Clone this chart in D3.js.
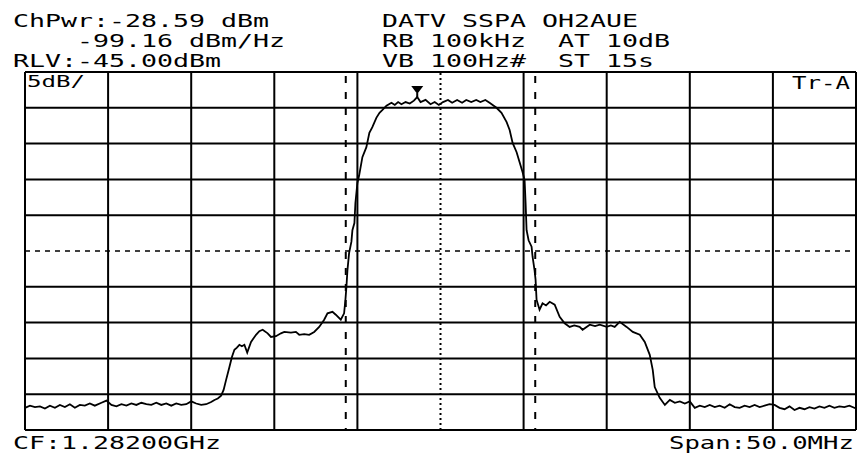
<!DOCTYPE html>
<html>
<head lang="en">
  <meta charset="UTF-8">
<title>DATV SSPA spectrum</title>
<style>
body { margin: 0; background: #fff; }
.lbl {
    font-family: "DejaVu Sans Mono", monospace;
    font-size: 18px;
    white-space: pre;
    fill: #000;
}
</style>
<script src="https://d3js.org/d3.v7.min.js"></script>
</head>
<body>
<div id="vis"></div>

<script>

// analyzer settings / tick values
var spanMHz = [-25, 25];          // offset from CF 1.282 GHz
var levelDbm = [-95, -45];        // RLV -45 dBm, 5 dB/div
var gridMHz = [-25, -20, -15, -10, -5, 0, 5, 10, 15, 20, 25];
var gridDbm = [-95, -90, -85, -80, -75, -70, -65, -60, -55, -50, -45];
var chanEdges = [-5.7, 5.7];      // channel power limits (dashed)
var marker = {f: -1.4, db: -48.5};

// header texts
var leftLines = ["ChPwr:-28.59 dBm", "    -99.16 dBm/Hz", "RLV:-45.00dBm"];
var rightLines = ["DATV SSPA OH2AUE", "RB 100kHz  AT 10dB", "VB 100Hz#  ST 15s"];

// trace
var traceMHz = [
  -25.0, -24.7, -24.4, -24.1, -23.8, -23.5, -23.2, -22.9, -22.6, -22.3,
  -22.0, -21.7, -21.4, -21.1, -20.8, -20.4, -20.1, -19.8, -19.5, -19.2,
  -18.9, -18.6, -18.3, -18.0, -17.7, -17.4, -17.1, -16.8, -16.5, -16.2,
  -15.9, -15.6, -15.3, -15.0, -14.7, -14.4, -14.1, -13.8, -13.6, -13.4,
  -13.2, -13.05, -12.9, -12.7, -12.55, -12.4, -12.25, -12.1, -11.95, -11.8,
  -11.63, -11.4, -11.1, -10.9, -10.7, -10.4, -10.2, -9.9, -9.6, -9.4,
  -9.0, -8.7, -8.5, -8.2, -7.9, -7.6, -7.3, -7.0, -6.8, -6.5,
  -6.3, -6.0, -5.8, -5.72, -5.66, -5.6, -5.5, -5.36, -5.3, -5.18,
  -5.12, -5.0, -4.9, -4.7, -4.46, -4.28, -4.1, -3.86, -3.67, -3.49,
  -3.25, -2.95, -2.75, -2.55, -2.35, -2.1, -1.85, -1.6, -1.4, -1.2,
  -0.9, -0.6, -0.35, -0.1, 0.15, 0.45, 0.7, 1.0, 1.3, 1.55,
  1.85, 2.15, 2.4, 2.7, 2.95, 3.37, 3.67, 3.98, 4.16, 4.34,
  4.58, 4.76, 4.94, 5.06, 5.12, 5.18, 5.3, 5.48, 5.54, 5.66,
  5.72, 5.78, 5.96, 6.14, 6.35, 6.57, 6.87, 7.17, 7.47, 7.77,
  8.05, 8.37, 8.55, 8.98, 9.3, 9.58, 10.0, 10.25, 10.48, 10.78,
  11.2, 11.57, 11.99, 12.29, 12.59, 12.77, 12.89, 13.19, 13.5, 13.8,
  14.1, 14.4, 14.7, 15.0, 15.3, 15.6, 15.9, 16.2, 16.5, 16.8,
  17.1, 17.4, 17.7, 18.0, 18.3, 18.6, 18.9, 19.2, 19.5, 19.8,
  20.1, 20.4, 20.7, 21.0, 21.3, 21.6, 21.9, 22.2, 22.5, 22.8,
  23.1, 23.4, 23.7, 24.0, 24.3, 24.6, 25.0
];
var traceDbm = [
  -91.9, -91.6, -91.8, -91.7, -92.0, -91.6, -91.9, -91.5, -91.8, -91.4,
  -91.9, -91.5, -91.6, -91.3, -91.6, -91.2, -90.9, -91.5, -91.7, -91.4,
  -91.6, -91.3, -91.5, -91.2, -91.4, -91.5, -91.2, -91.5, -91.3, -91.6,
  -91.3, -91.5, -91.4, -91.0, -91.3, -91.5, -91.4, -91.1, -90.8, -90.6,
  -90.2, -89.4, -88.0, -86.2, -84.8, -83.8, -83.5, -83.1, -83.3, -83.1,
  -84.2, -82.7, -81.7, -81.2, -81.0, -81.5, -82.0, -81.9, -81.5, -81.3,
  -81.4, -81.3, -81.7, -81.6, -81.7, -81.3, -80.6, -79.6, -78.7, -78.5,
  -78.9, -79.6, -78.7, -76.8, -75.0, -72.7, -70.3, -68.7, -67.1, -66.1,
  -63.3, -60.5, -59.5, -56.9, -55.5, -53.5, -52.7, -51.4, -50.7, -50.3,
  -49.7, -49.3, -49.6, -49.2, -49.5, -49.2, -49.4, -49.0, -48.5, -49.2,
  -48.9, -49.5, -49.2, -49.6, -49.2, -48.9, -49.3, -48.9, -49.3, -48.9,
  -49.2, -48.9, -49.2, -48.9, -49.3, -50.0, -50.7, -52.0, -53.1, -54.9,
  -56.2, -57.6, -59.0, -60.1, -63.3, -67.1, -68.5, -69.4, -70.8, -72.7,
  -74.0, -76.8, -78.2, -77.3, -77.6, -77.1, -77.5, -79.2, -80.1, -80.6,
  -80.4, -80.6, -81.0, -80.3, -80.5, -80.3, -80.6, -80.4, -80.6, -79.9,
  -80.6, -81.3, -81.7, -82.7, -84.5, -86.6, -89.0, -90.5, -91.5, -90.8,
  -91.2, -91.0, -91.3, -91.0, -91.9, -91.6, -91.8, -91.5, -91.8, -91.6,
  -91.9, -91.4, -91.8, -91.9, -91.6, -91.8, -91.5, -91.8, -91.6, -91.4,
  -91.5, -91.9, -92.1, -91.7, -92.2, -91.9, -92.1, -91.8, -92.0, -91.7,
  -91.9, -91.6, -91.9, -91.7, -91.8, -91.6, -92.0
];

var W = 858, H = 454;
var box = {left: 25, right: 856, top: 72, bottom: 430};

var svg = d3.select("#vis").append("svg")
  .attr("width", W)
  .attr("height", H);

var x = d3.scaleLinear().domain(spanMHz).range([box.left, box.right]);
var y = d3.scaleLinear().domain(levelDbm).range([box.bottom, box.top]);

// grid
svg.append("g").selectAll("line.v")
  .data(gridMHz)
  .enter().append("line")
  .attr("x1", function(d) { return x(d); })
  .attr("x2", function(d) { return x(d); })
  .attr("y1", y(levelDbm[0]))
  .attr("y2", y(levelDbm[1]))
  .attr("stroke", function(d) { return d == 0 ? "none" : "#000"; })
  .attr("stroke-width", 2);

svg.append("g").selectAll("line.h")
  .data(gridDbm)
  .enter().append("line")
  .attr("x1", x(spanMHz[0]))
  .attr("x2", x(spanMHz[1]))
  .attr("y1", function(d) { return y(d); })
  .attr("y2", function(d) { return y(d); })
  .attr("stroke", function(d) { return d == -70 ? "none" : "#000"; })
  .attr("stroke-width", 2);

// centre lines
svg.append("line")
  .attr("x1", x(0)).attr("x2", x(0))
  .attr("y1", y(levelDbm[0])).attr("y2", y(levelDbm[1]))
  .attr("stroke", "#000")
  .attr("stroke-width", 2)
  .attr("stroke-dasharray", "2,3");

svg.append("line")
  .attr("x1", x(spanMHz[0])).attr("x2", x(spanMHz[1]))
  .attr("y1", y(-70)).attr("y2", y(-70))
  .attr("stroke", "#000")
  .attr("stroke-width", 1.5)
  .attr("stroke-dasharray", "5,5");

// channel limits
svg.append("g").selectAll("line")
  .data(chanEdges)
  .enter().append("line")
  .attr("x1", function(d) { return x(d); })
  .attr("x2", function(d) { return x(d); })
  .attr("y1", y(levelDbm[1]) + 4)
  .attr("y2", y(levelDbm[0]))
  .attr("stroke", "#000")
  .attr("stroke-width", 2)
  .attr("stroke-dasharray", "7,9");

// trace
var pts = traceMHz.map(function(f, i) { return [f, traceDbm[i]]; });
var line = d3.line()
  .x(function(d) { return x(d[0]); })
  .y(function(d) { return y(d[1]); });

svg.append("path")
  .datum(pts)
  .attr("d", line)
  .attr("fill", "none")
  .attr("stroke", "#000")
  .attr("stroke-width", 1.8)
  .attr("stroke-linejoin", "miter");

// marker
var mx = x(marker.f), my = y(marker.db);
svg.append("path")
  .attr("d", "M" + (mx - 6) + "," + (my - 11) + "L" + (mx + 6) + "," + (my - 11) + "L" + mx + "," + (my - 3) + "Z")
  .attr("fill", "#000");
svg.append("line")
  .attr("x1", mx).attr("x2", mx)
  .attr("y1", my - 4).attr("y2", my)
  .attr("stroke", "#000")
  .attr("stroke-width", 2);

// texts
function label(s, tx, ty, adv, size) {
  svg.append("text")
    .attr("class", "lbl")
    .attr("x", tx)
    .attr("y", ty)
    .style("font-size", (size || 18) + "px")
    .attr("textLength", s.length * adv)
    .attr("lengthAdjust", "spacingAndGlyphs")
    .text(s);
}

leftLines.forEach(function(s, i) { label(s, 13, 26.5 + 20 * i, 16); });
rightLines.forEach(function(s, i) { label(s, 382, 26.5 + 20 * i, 16); });
label("5dB/", 27, 87, 14.5, 16);
label("Tr-A", 792, 89, 14.5, 17);
label("CF:1.28200GHz", 13, 449, 16);
label("Span:50.0MHz", 669, 449, 15.4);

</script>
</body>
</html>
